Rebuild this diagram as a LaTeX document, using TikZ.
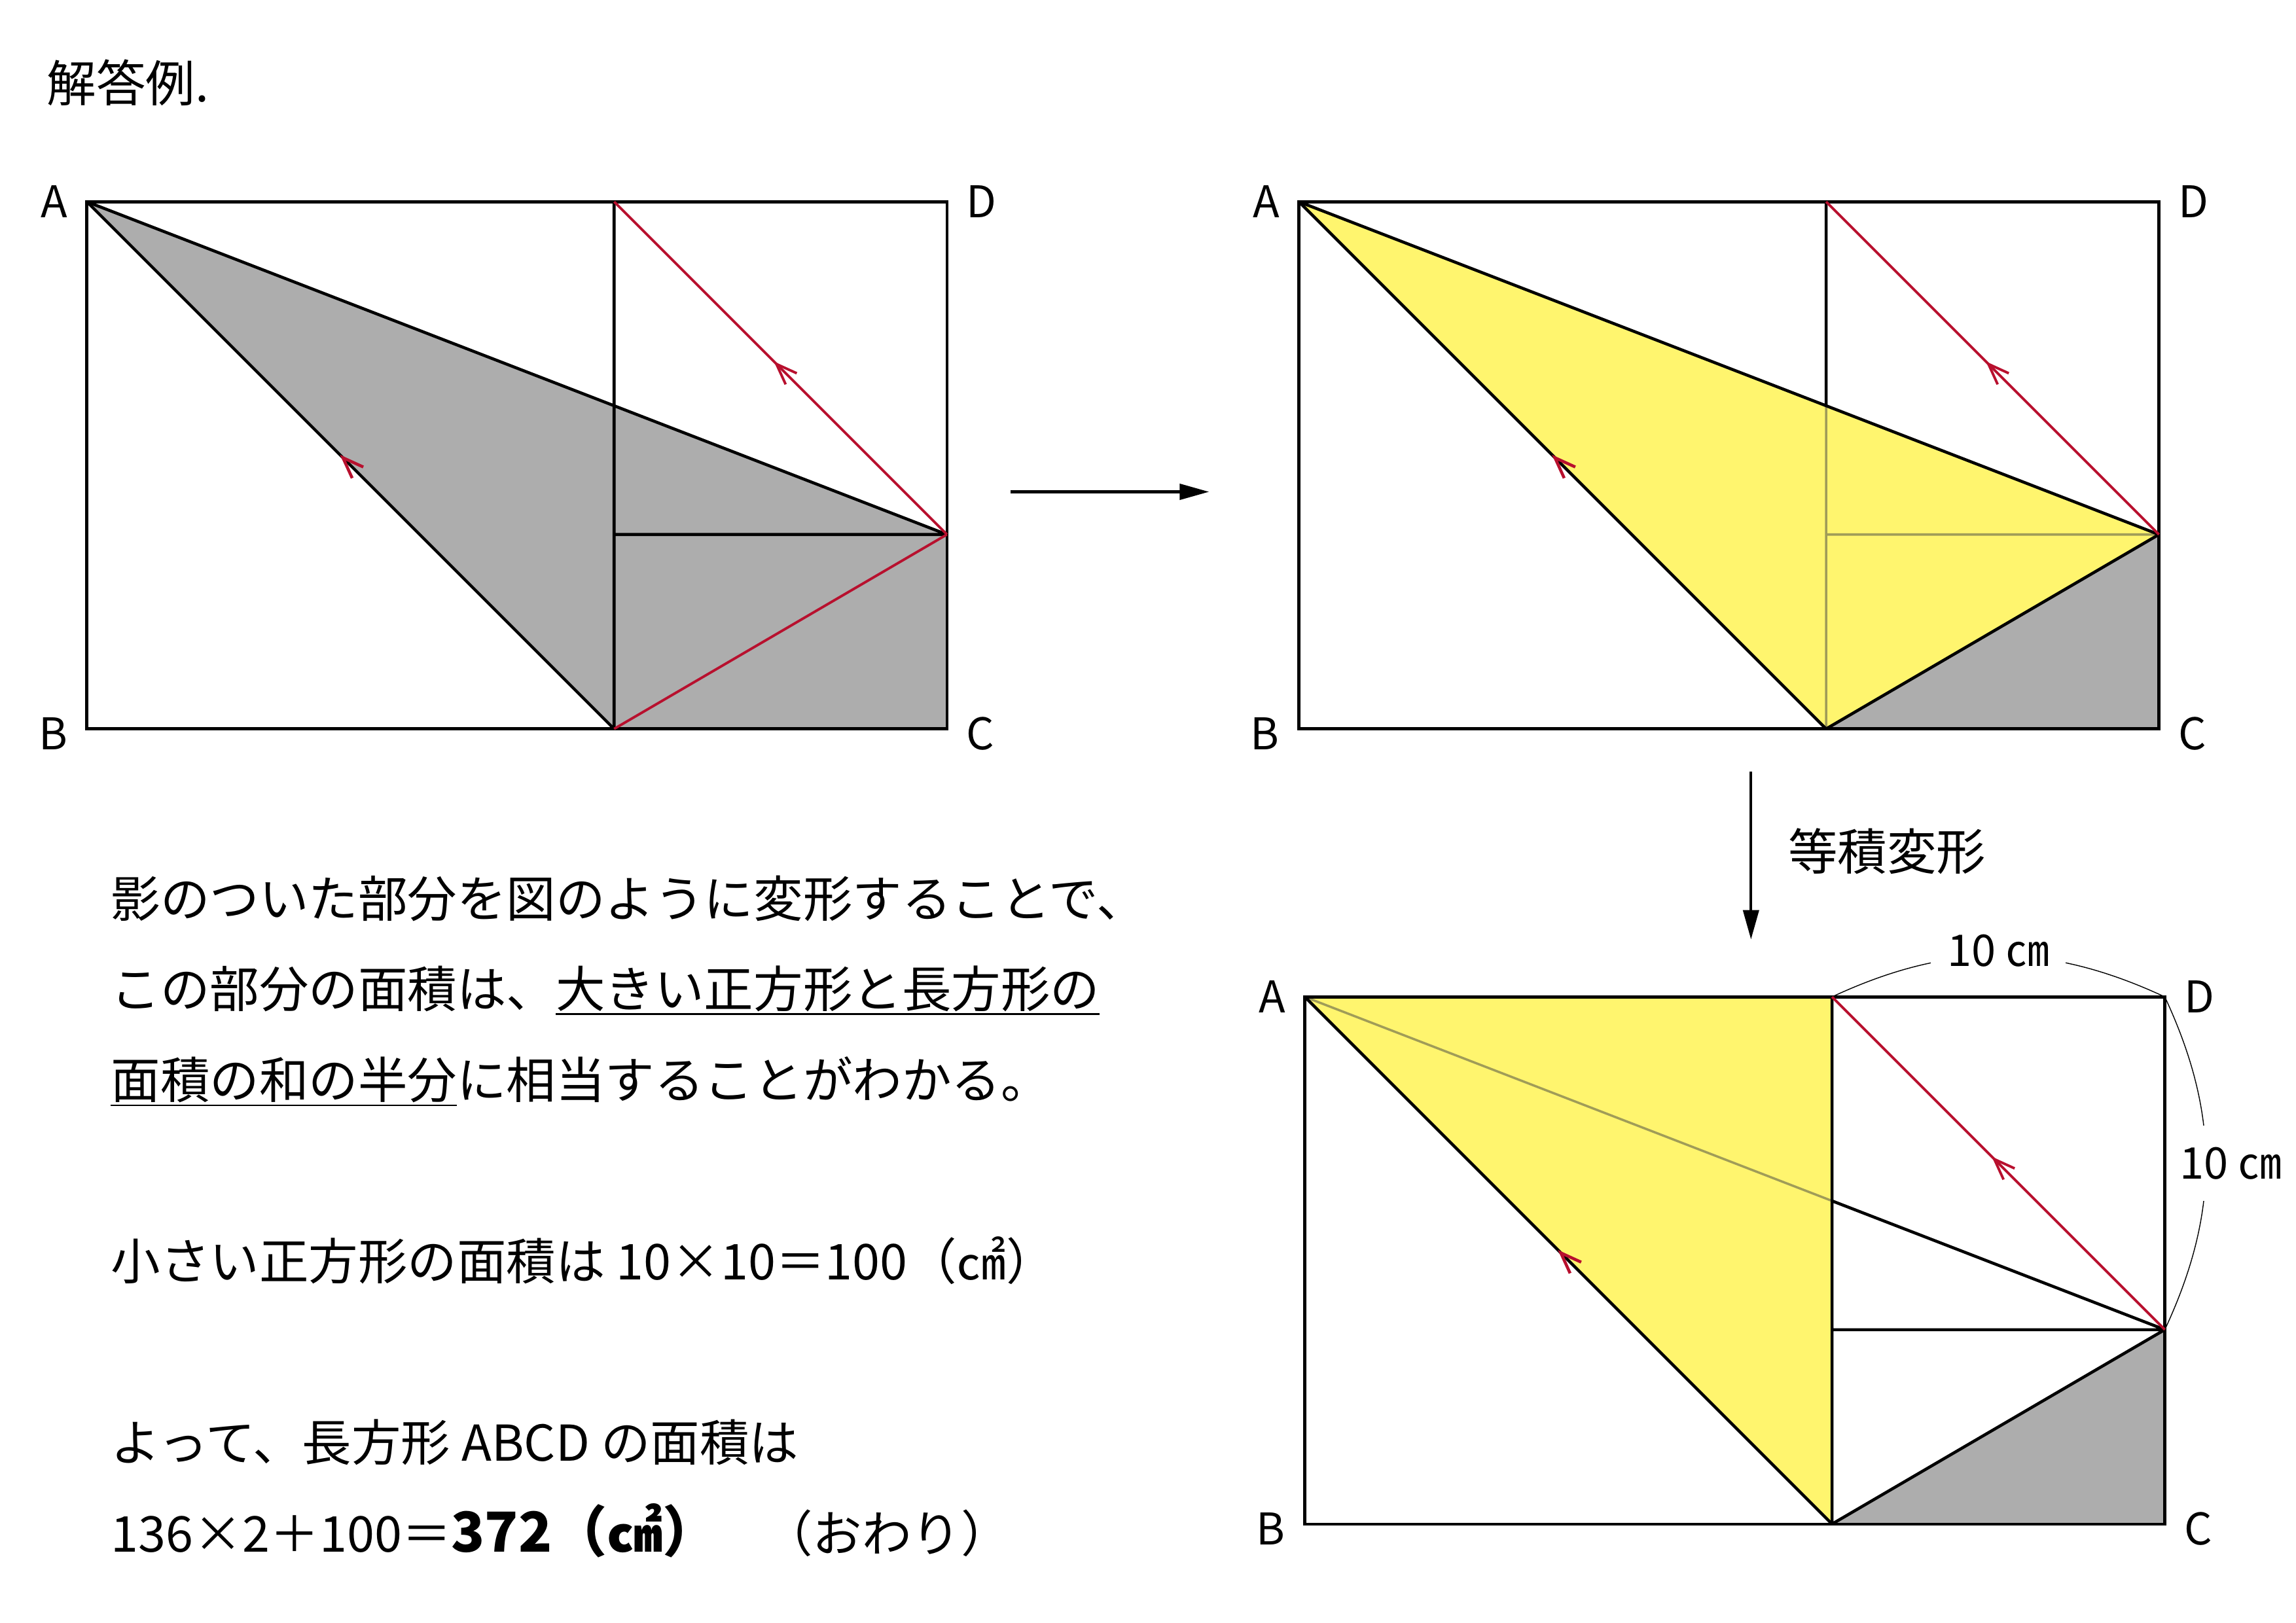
\documentclass[tikz,border=0pt]{standalone}
\usepackage{fontspec}
\setmainfont{Noto Sans CJK JP}
\newcommand{\ulbar}[1]{\leavevmode\setbox0\hbox{#1}\rlap{\rule[-3.4pt]{\wd0}{0.8pt}}\box0}
\usetikzlibrary{positioning,arrows.meta,decorations.markings}
\definecolor{greyfill}{HTML}{ADADAD}
\definecolor{lemon}{HTML}{FFF56E}
\definecolor{crimson}{HTML}{B8102E}
\definecolor{fadeline}{HTML}{A09C58}
\tikzset{
  edge/.style={line width=1.3pt},
  redline/.style={line width=1.1pt, color=crimson},
  midarrow/.style={postaction={decorate}, decoration={markings,
    mark=at position 0.52 with {\arrow[crimson]{Straight Barb[length=3.2mm, width=2.4mm]}}}},
  vlabel/.style={inner sep=0pt, font=\fontsize{19}{19}\selectfont},
  txt/.style={inner sep=0pt, anchor=base west, font=\fontsize{21.5}{21.5}\selectfont},
  dimlabel/.style={fill=white, inner xsep=2.5mm, inner ysep=1mm, font=\fontsize{19}{19}\selectfont},
  dimarc/.style={line width=0.4pt},
  bigarrow/.style={line width=1.2pt, -{Triangle[length=4.5mm, width=2.4mm]}}
}
\begin{document}
\begin{tikzpicture}[x=0.0225cm, y=-0.0225cm]
\useasboundingbox (0,0) rectangle (1559.1,1102.2);
\node[txt] (title) at (31.5,69) {解答例.};
% panel 1
\coordinate (A1) at (59,137);
\coordinate (B1) at (59,495);
\coordinate (G1) at (417,137);
\coordinate (F1) at (417,495);
\coordinate (D1) at (643,137);
\coordinate (C1) at (643,495);
\coordinate (H1) at (417,363);
\coordinate (E1) at (643,363);
\fill[greyfill] (A1) -- (E1) -- (C1) -- (F1) -- cycle;
\draw[edge] (A1) rectangle (C1);
\draw[edge] (G1) -- (F1) (H1) -- (E1) (A1) -- (E1);
\draw[edge, midarrow] (F1) -- (A1);
\draw[redline] (F1) -- (E1);
\draw[redline, midarrow] (E1) -- (G1);
\node[vlabel, left=2.9mm of A1] (a1) {A};
\node[vlabel, left=2.9mm of B1, yshift=-0.7mm] (b1) {B};
\node[vlabel, right=2.9mm of C1, yshift=-0.7mm] (c1) {C};
\node[vlabel, right=2.9mm of D1] (d1) {D};
% panel 2
\coordinate (A2) at (882,137);
\coordinate (B2) at (882,495);
\coordinate (G2) at (1240,137);
\coordinate (F2) at (1240,495);
\coordinate (D2) at (1466,137);
\coordinate (C2) at (1466,495);
\coordinate (H2) at (1240,363);
\coordinate (E2) at (1466,363);
\coordinate (K2) at (intersection of A2--E2 and G2--F2);
\fill[lemon] (A2) -- (E2) -- (F2) -- cycle;
\fill[greyfill] (F2) -- (C2) -- (E2) -- cycle;
\draw[fadeline, line width=1pt] (K2) -- (F2) (H2) -- (E2);
\draw[edge] (A2) rectangle (C2);
\draw[edge] (G2) -- (K2) (A2) -- (E2) (F2) -- (E2);
\draw[edge, midarrow] (F2) -- (A2);
\draw[redline, midarrow] (E2) -- (G2);
\node[vlabel, left=2.9mm of A2] (a2) {A};
\node[vlabel, left=2.9mm of B2, yshift=-0.7mm] (b2) {B};
\node[vlabel, right=2.9mm of C2, yshift=-0.7mm] (c2) {C};
\node[vlabel, right=2.9mm of D2] (d2) {D};
% panel 3
\coordinate (A3) at (886,677);
\coordinate (B3) at (886,1035);
\coordinate (G3) at (1244,677);
\coordinate (F3) at (1244,1035);
\coordinate (D3) at (1470,677);
\coordinate (C3) at (1470,1035);
\coordinate (H3) at (1244,903);
\coordinate (E3) at (1470,903);
\coordinate (K3) at (intersection of A3--E3 and G3--F3);
\fill[lemon] (A3) -- (G3) -- (F3) -- cycle;
\fill[greyfill] (F3) -- (C3) -- (E3) -- cycle;
\draw[fadeline, line width=1pt] (A3) -- (K3);
\draw[dimarc] (G3) to[bend left=25] node[dimlabel, yshift=0.8mm] (topdim) {10 ㎝} (D3);
\draw[dimarc] (D3) to[bend left=25] node[dimlabel, xshift=3.8mm, inner xsep=0.4mm, inner ysep=3.3mm] (sidedim) {10 ㎝} (E3);
\draw[edge] (A3) rectangle (C3);
\draw[edge] (G3) -- (F3) (H3) -- (E3) (K3) -- (E3) (F3) -- (E3);
\draw[edge, midarrow] (F3) -- (A3);
\draw[redline, midarrow] (E3) -- (G3);
\node[vlabel, left=2.9mm of A3] (a3) {A};
\node[vlabel, left=2.9mm of B3, yshift=-0.7mm] (b3) {B};
\node[vlabel, right=2.9mm of C3, yshift=-0.7mm] (c3) {C};
\node[vlabel, right=2.9mm of D3] (d3) {D};
% arrows between panels
\coordinate (h0) at (686,334);
\coordinate (h1) at (821,334);
\draw[bigarrow] (h0) -- (h1);
\coordinate (v0) at (1189,524);
\coordinate (v1) at (1189,638);
\draw[bigarrow] (v0) -- (v1);
\node[inner sep=0pt, font=\fontsize{21.5}{21.5}\selectfont] (equiv) at (1281.5,578) {等積変形};
% text
\node[txt] (l1) at (75,623) {影のついた部分を図のように変形することで、};
\node[txt] (l2) at (75,684) {この部分の面積は、\ulbar{大きい正方形と長方形の}};
\node[txt] (l3) at (75,746) {\ulbar{面積の和の半分}に相当することがわかる。};
\node[txt] (l4) at (75,869) {小さい正方形の面積は 10×10＝100（㎠）};
\node[txt] (l5) at (75,992) {よって、長方形 ABCD の面積は};
\node[txt] (l6) at (75,1054) {136×2＋100＝{\fontsize{24}{24}\selectfont\bfseries 372（㎠）}};
\node[txt] (l7) at (518,1054) {（おわり）};
\end{tikzpicture}
\end{document}
